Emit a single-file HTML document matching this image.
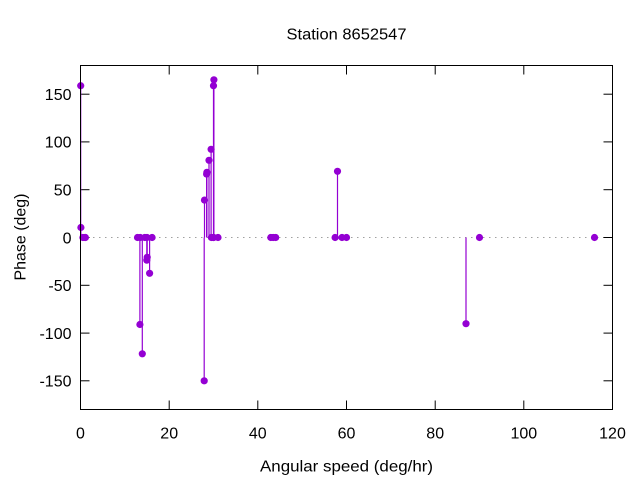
<!DOCTYPE html>
<html><head><meta charset="utf-8"><style>
html,body{margin:0;padding:0;background:#fff;}
svg{display:block;}
text{font-family:"Liberation Sans",sans-serif;font-size:16px;fill:#000;}
</style></head><body>
<svg width="640" height="480" viewBox="0 0 640 480" xmlns="http://www.w3.org/2000/svg">
<rect width="640" height="480" fill="#fff"/>
<!-- zero line -->
<line x1="81" y1="237.5" x2="612" y2="237.5" stroke="#a0a0a0" stroke-width="1" stroke-dasharray="1.5 4.5"/>
<!-- ticks -->
<g stroke="#000" stroke-width="1">
<line x1="80.5" y1="94.2" x2="89.5" y2="94.2"/><line x1="612.5" y1="94.2" x2="603.5" y2="94.2"/>
<line x1="80.5" y1="141.9" x2="89.5" y2="141.9"/><line x1="612.5" y1="141.9" x2="603.5" y2="141.9"/>
<line x1="80.5" y1="189.7" x2="89.5" y2="189.7"/><line x1="612.5" y1="189.7" x2="603.5" y2="189.7"/>
<line x1="80.5" y1="237.5" x2="89.5" y2="237.5"/><line x1="612.5" y1="237.5" x2="603.5" y2="237.5"/>
<line x1="80.5" y1="285.3" x2="89.5" y2="285.3"/><line x1="612.5" y1="285.3" x2="603.5" y2="285.3"/>
<line x1="80.5" y1="333.1" x2="89.5" y2="333.1"/><line x1="612.5" y1="333.1" x2="603.5" y2="333.1"/>
<line x1="80.5" y1="380.8" x2="89.5" y2="380.8"/><line x1="612.5" y1="380.8" x2="603.5" y2="380.8"/>
<line x1="169.2" y1="409.5" x2="169.2" y2="400.5"/><line x1="169.2" y1="65.5" x2="169.2" y2="74.5"/>
<line x1="257.8" y1="409.5" x2="257.8" y2="400.5"/><line x1="257.8" y1="65.5" x2="257.8" y2="74.5"/>
<line x1="346.5" y1="409.5" x2="346.5" y2="400.5"/><line x1="346.5" y1="65.5" x2="346.5" y2="74.5"/>
<line x1="435.2" y1="409.5" x2="435.2" y2="400.5"/><line x1="435.2" y1="65.5" x2="435.2" y2="74.5"/>
<line x1="523.8" y1="409.5" x2="523.8" y2="400.5"/><line x1="523.8" y1="65.5" x2="523.8" y2="74.5"/>
</g>
<!-- impulses -->
<g stroke="#9400d3" stroke-width="1.2">
<line x1="80.7" y1="237.5" x2="80.7" y2="85.75"/>
<line x1="80.9" y1="237.5" x2="80.9" y2="227.5"/>
<line x1="139.9" y1="237.5" x2="139.9" y2="324.5"/>
<line x1="142.3" y1="237.5" x2="142.3" y2="353.8"/>
<line x1="146.8" y1="237.5" x2="146.8" y2="260.2"/>
<line x1="147.2" y1="237.5" x2="147.2" y2="257.3"/>
<line x1="149.6" y1="237.5" x2="149.6" y2="273.3"/>
<line x1="204.2" y1="237.5" x2="204.2" y2="380.8"/>
<line x1="204.5" y1="237.5" x2="204.5" y2="200.1"/>
<line x1="206.6" y1="237.5" x2="206.6" y2="174.05"/>
<line x1="206.9" y1="237.5" x2="206.9" y2="172.3"/>
<line x1="209.0" y1="237.5" x2="209.0" y2="160.3"/>
<line x1="211.1" y1="237.5" x2="211.1" y2="149.3"/>
<line x1="213.5" y1="237.5" x2="213.5" y2="85.75"/>
<line x1="213.9" y1="237.5" x2="213.9" y2="79.8"/>
<line x1="337.5" y1="237.5" x2="337.5" y2="171.3"/>
<line x1="466.0" y1="237.5" x2="466.0" y2="323.7"/>
</g>
<!-- points -->
<g fill="#9400d3">
<circle cx="80.7" cy="85.75" r="3.6"/>
<circle cx="80.9" cy="227.5" r="3.6"/>
<circle cx="82.9" cy="237.5" r="3.6"/>
<circle cx="85.0" cy="237.5" r="3.6"/>
<circle cx="85.4" cy="237.5" r="3.6"/>
<circle cx="137.5" cy="237.5" r="3.6"/>
<circle cx="139.9" cy="324.5" r="3.6"/>
<circle cx="140.2" cy="237.5" r="3.6"/>
<circle cx="142.3" cy="353.8" r="3.6"/>
<circle cx="144.8" cy="237.5" r="3.6"/>
<circle cx="146.8" cy="260.2" r="3.6"/>
<circle cx="147.0" cy="237.5" r="3.6"/>
<circle cx="147.2" cy="257.3" r="3.6"/>
<circle cx="149.6" cy="273.3" r="3.6"/>
<circle cx="152.1" cy="237.5" r="3.6"/>
<circle cx="204.2" cy="380.8" r="3.6"/>
<circle cx="204.5" cy="200.1" r="3.6"/>
<circle cx="206.6" cy="174.05" r="3.6"/>
<circle cx="206.9" cy="172.3" r="3.6"/>
<circle cx="209.0" cy="160.3" r="3.6"/>
<circle cx="211.1" cy="149.3" r="3.6"/>
<circle cx="211.4" cy="237.5" r="3.6"/>
<circle cx="213.3" cy="237.5" r="3.6"/>
<circle cx="213.5" cy="85.75" r="3.6"/>
<circle cx="213.7" cy="237.5" r="3.6"/>
<circle cx="213.9" cy="79.8" r="3.6"/>
<circle cx="218.0" cy="237.5" r="3.6"/>
<circle cx="270.8" cy="237.5" r="3.6"/>
<circle cx="273.2" cy="237.5" r="3.6"/>
<circle cx="275.7" cy="237.5" r="3.6"/>
<circle cx="335.1" cy="237.5" r="3.6"/>
<circle cx="337.5" cy="171.3" r="3.6"/>
<circle cx="342.0" cy="237.5" r="3.6"/>
<circle cx="346.5" cy="237.5" r="3.6"/>
<circle cx="466.0" cy="323.7" r="3.6"/>
<circle cx="479.5" cy="237.5" r="3.6"/>
<circle cx="594.5" cy="237.5" r="3.6"/>
</g>
<!-- frame -->
<rect x="80.5" y="65.5" width="532" height="344" fill="none" stroke="#000" stroke-width="1"/>
<!-- y tick labels -->
<g text-anchor="end">
<text x="71.5" y="100">150</text>
<text x="71.5" y="147.7">100</text>
<text x="71.5" y="195.5">50</text>
<text x="71.5" y="243.3">0</text>
<text x="71.5" y="291.1">-50</text>
<text x="71.5" y="338.9">-100</text>
<text x="71.5" y="386.6">-150</text>
</g>
<!-- x tick labels -->
<g text-anchor="middle">
<text x="80.5" y="438.5">0</text>
<text x="169.2" y="438.5">20</text>
<text x="257.8" y="438.5">40</text>
<text x="346.5" y="438.5">60</text>
<text x="435.2" y="438.5">80</text>
<text x="523.8" y="438.5">100</text>
<text x="612.5" y="438.5">120</text>
</g>
<text x="346.5" y="39.5" text-anchor="middle" textLength="120" lengthAdjust="spacingAndGlyphs">Station 8652547</text>
<text x="346.5" y="471.5" text-anchor="middle" textLength="173" lengthAdjust="spacingAndGlyphs">Angular speed (deg/hr)</text>
<text x="0" y="0" transform="translate(25.5,237) rotate(-90)" text-anchor="middle" textLength="87" lengthAdjust="spacingAndGlyphs">Phase (deg)</text>
</svg>
</body></html>
